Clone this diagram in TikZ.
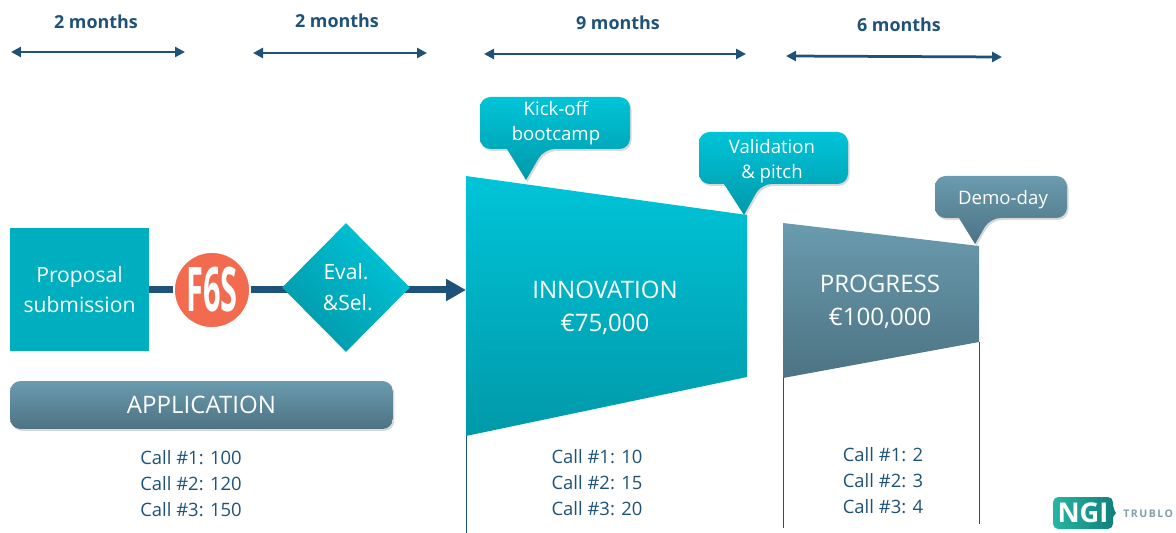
\documentclass[tikz,border=0pt]{standalone}
\usepackage{fontspec}
\usepackage{graphicx}
\setmainfont{Open Sans}
\usetikzlibrary{arrows.meta,shadows,shapes.geometric,backgrounds}
\definecolor{tealtop}{HTML}{00C4D8}
\definecolor{tealbot}{HTML}{0099A9}
\definecolor{tealflat}{HTML}{00AFBF}
\definecolor{slatetop}{HTML}{6A9BAE}
\definecolor{slatebot}{HTML}{4C7383}
\definecolor{navy}{HTML}{1F5278}
\definecolor{fsixred}{HTML}{F26B4E}
\definecolor{ngileft}{HTML}{27B5A2}
\definecolor{ngiright}{HTML}{0F7F7A}
\definecolor{trublogrey}{HTML}{7F9FAD}
\tikzset{
  whitetext/.style={text=white,align=center,inner sep=0pt,font=\fontsize{12}{17}\selectfont},
  bigtext/.style={text=white,align=center,inner sep=0pt,font=\fontsize{13.7}{18.7}\selectfont},
  calltext/.style={text=navy,align=center,inner sep=0pt,font=\fontsize{10.5}{14.75}\selectfont},
  tiptext/.style={text=white,align=center,inner sep=0pt,font=\fontsize{10.6}{14.6}\selectfont},
  spantext/.style={text=navy,inner sep=0pt,font=\fontsize{10.2}{12}\selectfont\bfseries},
  spanline/.style={navy,line width=.055cm,{Triangle[length=.2cm,width=.2cm]}-{Triangle[length=.2cm,width=.2cm]}},
  flowline/.style={navy,line width=.14cm},
  tealshade/.style={top color=tealtop,bottom color=tealbot},
  slateshade/.style={top color=slatetop,bottom color=slatebot},
  softshadow/.style={drop shadow={opacity=.3,shadow xshift=.03cm,shadow yshift=-.04cm}},
  dropline/.style={navy,line width=.5pt},
}
\begin{document}
\begin{tikzpicture}[x=.02cm,y=-.02cm]
        \useasboundingbox (0,0) rectangle (1176,533);
        % time spans
        \node[spantext] (spana) at (96,22) {2 months};
        \node[spantext] (spanb) at (337,21) {2 months};
        \node[spantext] (spanc) at (618,23) {9 months};
        \node[spantext] (spand) at (899,25) {6 months};
        \coordinate (spanal) at (11,52);   \coordinate (spanar) at (185,52);
        \coordinate (spanbl) at (253,53);  \coordinate (spanbr) at (427,53);
        \coordinate (spancl) at (484,54);  \coordinate (spancr) at (746,54);
        \coordinate (spandl) at (786,56);  \coordinate (spandr) at (1002,57);
        \draw[spanline] (spanal) -- (spanar);
        \draw[spanline] (spanbl) -- (spanbr);
        \draw[spanline] (spancl) -- (spancr);
        \draw[spanline] (spandl) -- (spandr);
        % application row
        \node[whitetext,fill=tealflat,minimum width=2.78cm,minimum height=2.46cm] (proposal) at (79.5,289.5) {Proposal\\submission};
        \node[circle,fill=fsixred,draw=white,line width=1pt,minimum size=1.52cm,inner sep=0pt,text=white,font=\fontsize{35}{35}\selectfont\bfseries] (fsix) at (212,290) {\scalebox{.5}[1]{F6S}};
        \node[diamond,aspect=1,minimum width=2.56cm,minimum height=2.58cm,inner sep=0pt,whitetext,shading=axis,left color=tealtop,right color=tealbot,shading angle=-45] (evalsel) at (346,287.5) {Eval.\\[.5pt]\hspace*{2pt}\&Sel.};
        \coordinate (innoin) at (466,290);
        \begin{scope}[on background layer]
          \draw[flowline] (proposal.center |- fsix) -- (fsix.west);
          \draw[flowline] (fsix.east) -- (evalsel.center |- fsix);
          \draw[flowline,-{Triangle[length=.4cm,width=.42cm]}] (evalsel.center |- innoin) -- (innoin);
        \end{scope}
        \node[bigtext,minimum width=7.66cm,minimum height=.96cm,rounded corners=6pt,slateshade,softshadow] (application) at (201.5,405) {APPLICATION};
        % innovation and progress
        \draw[dropline] (466,436) -- (466,533);
        \draw[dropline] (783,378) -- (783,528);
        \draw[dropline] (979,342) -- (979,524);
        \path[tealshade] (466,176) -- (747,215) -- (747,377) -- (466,436) -- cycle;
        \path[slateshade] (783,223) -- (979,246) -- (979,342) -- (783,378) -- cycle;
        \node[bigtext] (innovation) at (605,307.5) {INNOVATION\\€75,000};
        \node[bigtext] (progress) at (880,301.5) {PROGRESS\\€100,000};
        % callouts
        \path[tealshade,softshadow,rounded corners=6pt] (480,97) -- (630,97) -- (630,149) -- (544,149) [sharp corners] -- (526,180) -- (507,149) [rounded corners=6pt] -- (480,149) -- cycle;
        \path[tealshade,softshadow,rounded corners=6pt] (699,132) -- (848,132) -- (848,184) -- (761,184) [sharp corners] -- (744,215) -- (724,184) [rounded corners=6pt] -- (699,184) -- cycle;
        \path[slateshade,softshadow,rounded corners=6pt] (935,176) -- (1067,176) -- (1067,218) -- (990,218) [sharp corners] -- (975,244) -- (959,218) [rounded corners=6pt] -- (935,218) -- cycle;
        \node[tiptext] (kickoff) at (556,123) {Kick-off\\bootcamp};
        \node[tiptext] (validation) at (772,161) {Validation\\\& pitch};
        \node[tiptext] (demoday) at (1003,200) {Demo-day};
        % call figures
        \node[calltext] (callsapp) at (191,484) {Call \#1: 100\\Call \#2: 120\\Call \#3: 150};
        \node[calltext] (callsinno) at (597,483) {Call \#1: 10\\Call \#2: 15\\Call \#3: 20};
        \node[calltext] (callsprog) at (883,481) {Call \#1: 2\\Call \#2: 3\\Call \#3: 4};
        % logo
        \path[left color=ngileft,right color=ngiright,rounded corners=3pt] (1053,497) -- (1113,497) -- (1113,509) [sharp corners] -- (1116,513) -- (1113,517) [rounded corners=3pt] -- (1113,529) -- (1053,529) -- cycle;
        \node[text=white,inner sep=0pt,font=\fontsize{15.5}{16}\selectfont\bfseries] (ngi) at (1083,513) {NGI};
        \node[text=trublogrey,anchor=west,inner sep=0pt,font=\fontsize{6}{7}\selectfont\bfseries\addfontfeature{LetterSpace=14}] (trublo) at (1123,514) {TRUBLO};
      \end{tikzpicture}
\end{document}
